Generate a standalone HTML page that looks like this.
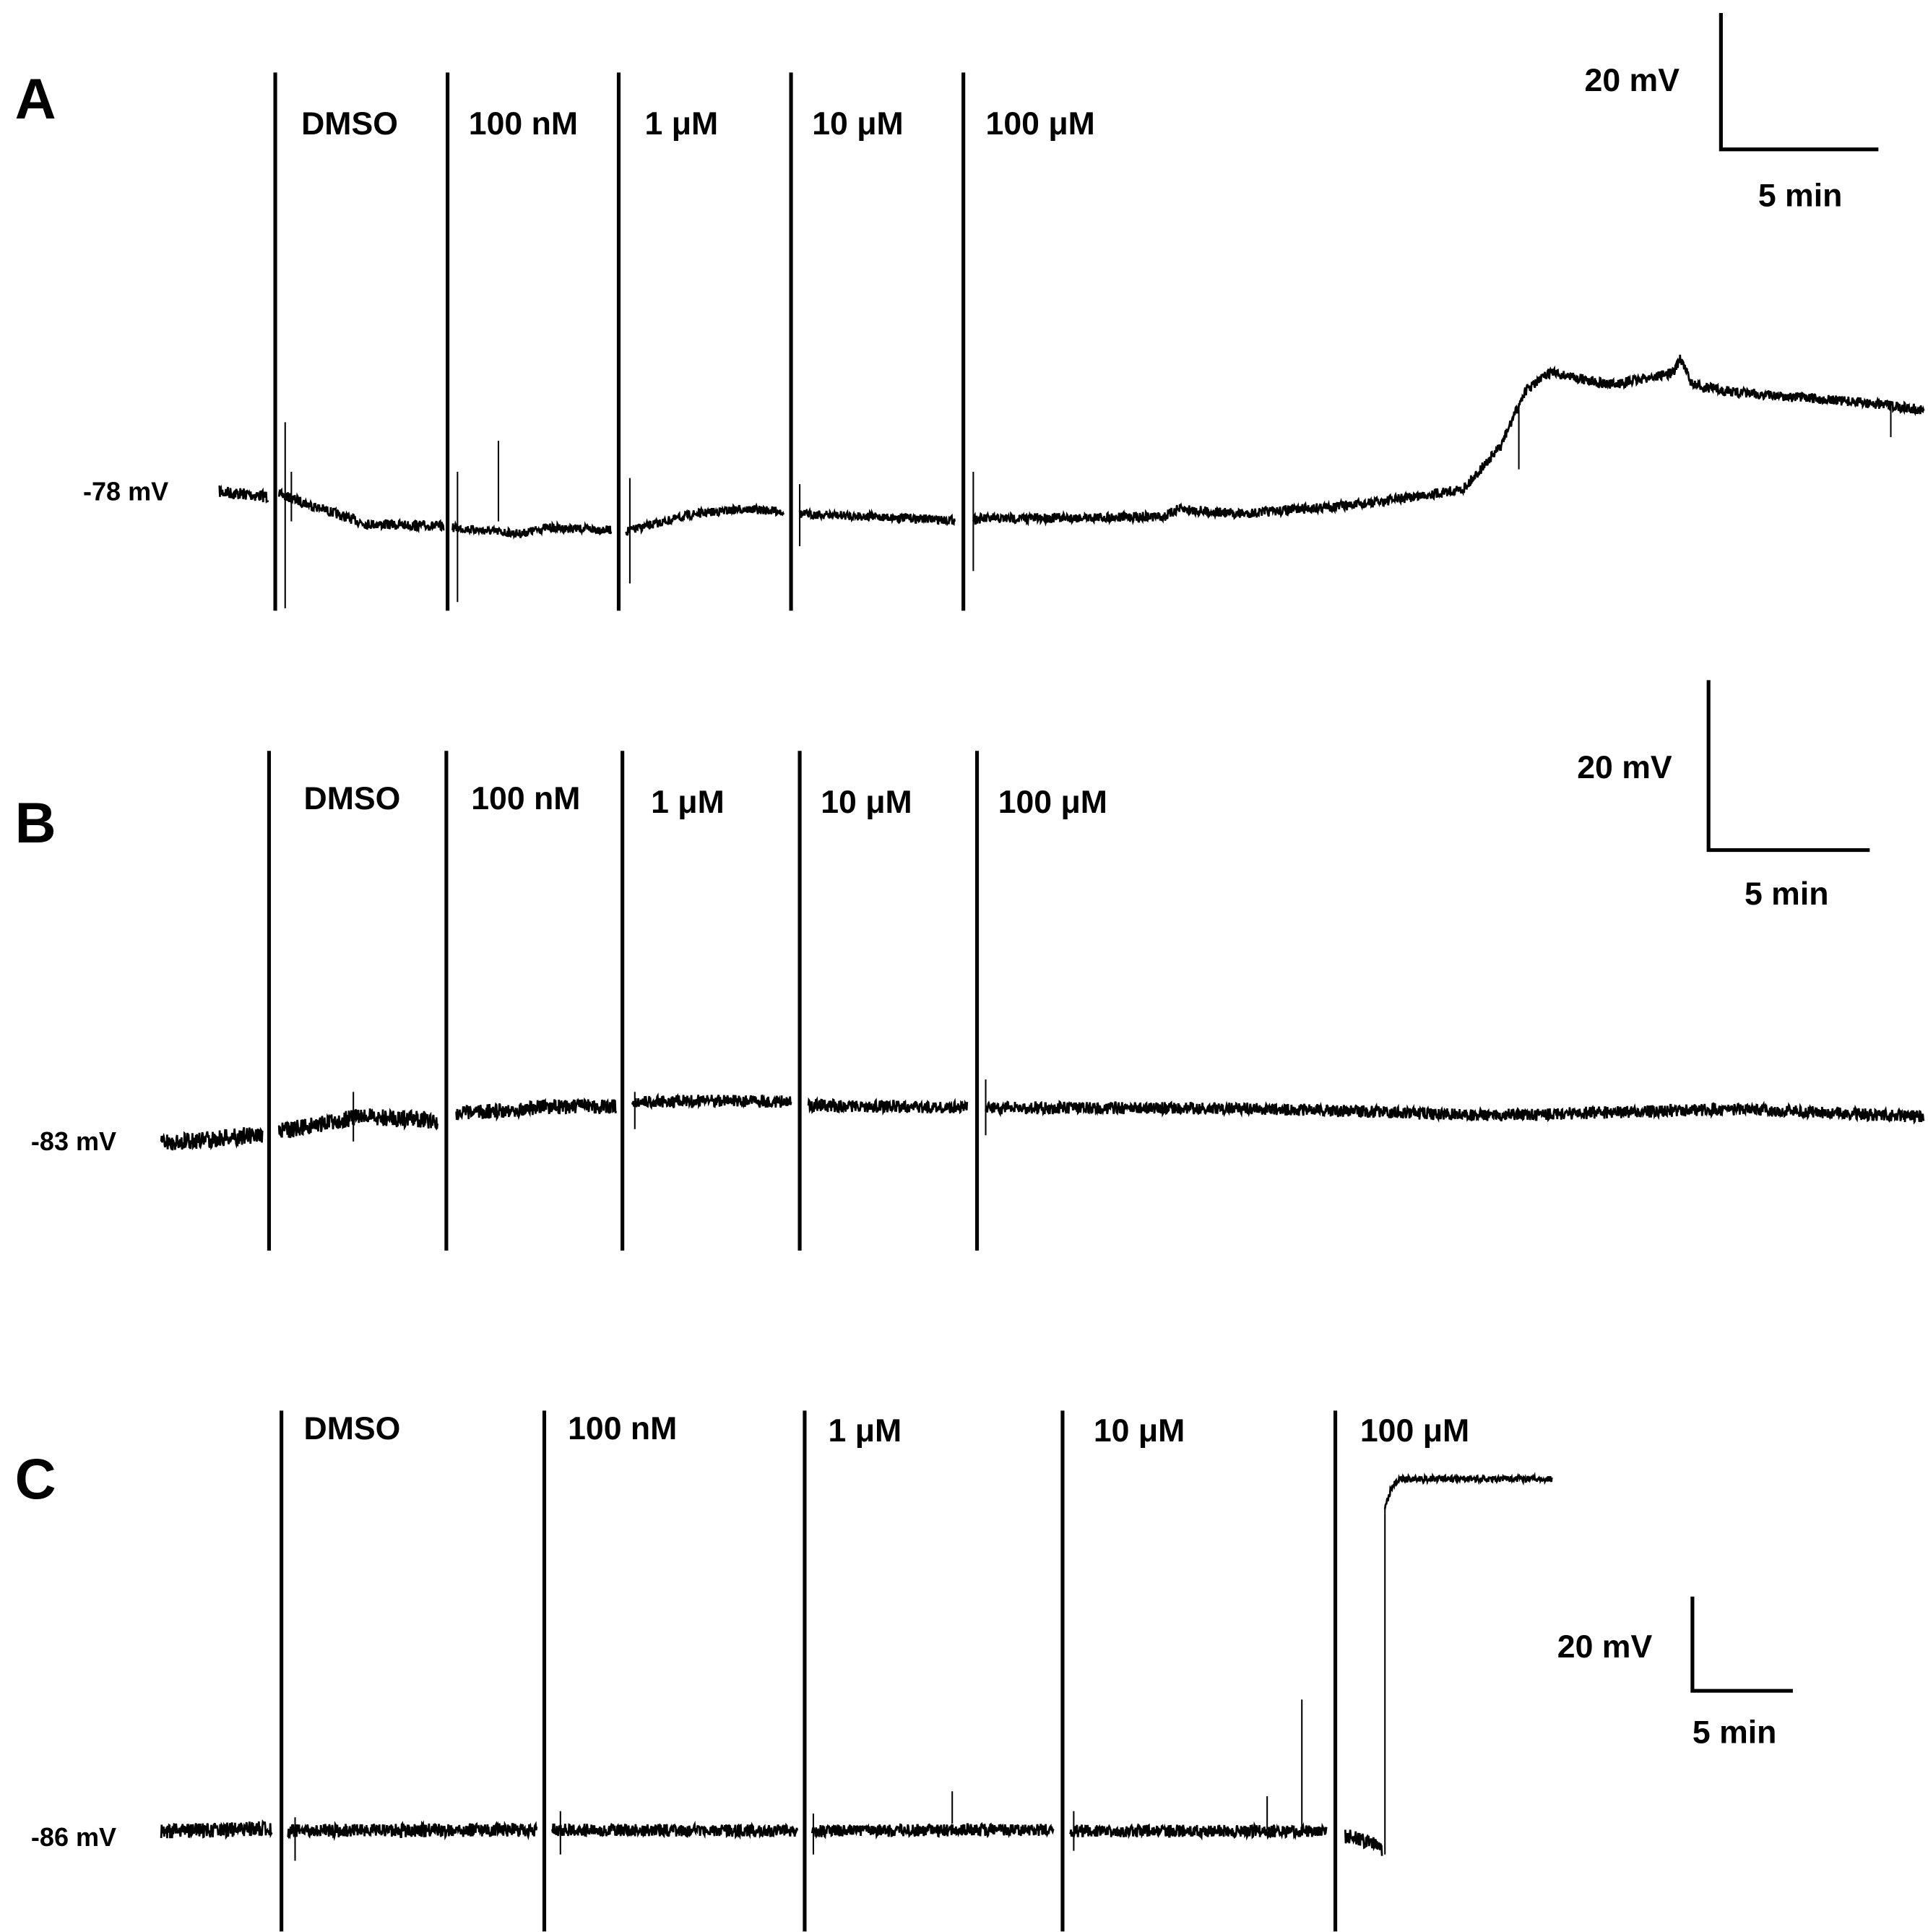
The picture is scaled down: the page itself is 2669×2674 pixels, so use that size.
<!DOCTYPE html>
<html><head><meta charset="utf-8"><style>
html,body{margin:0;padding:0;background:#fff;}
svg{display:block;}
.lab{font-family:"Liberation Sans",Arial,sans-serif;font-weight:bold;font-size:26px;fill:#000;}
.let{font-family:"Liberation Sans",Arial,sans-serif;font-weight:bold;font-size:46px;fill:#000;}
.mv{font-family:"Liberation Sans",sans-serif;font-weight:bold;font-size:21px;fill:#000;}
</style></head><body>
<svg id="s" width="2669" height="2674" viewBox="0 0 1555 1557" xmlns="http://www.w3.org/2000/svg">
<g stroke="#000" stroke-width="3" fill="none">
<path d="M222 58V492M361 58V492M499 58V492M638 58V492M777 58V492"/>
<path d="M1388 10V120H1515"/>
<path d="M217 605V1008M360 605V1008M502 605V1008M645 605V1008M788 605V1008"/>
<path d="M1378 548V685H1508"/>
<path d="M227 1137V1557M439 1137V1557M649 1137V1557M857 1137V1557M1077 1137V1557"/>
<path d="M1365 1287V1363H1446"/>
</g>
<text class="let" x="12" y="95">A</text>
<text class="let" x="12" y="679">B</text>
<text class="let" x="12" y="1208">C</text>
<g class="lab">
<text x="243" y="108">DMSO</text><text x="378" y="108">100 nM</text><text x="520" y="108">1 μM</text><text x="655" y="108">10 μM</text><text x="795" y="108">100 μM</text>
<text x="1278" y="73">20 mV</text><text x="1418" y="166">5 min</text>
<text x="245" y="652">DMSO</text><text x="380" y="652">100 nM</text><text x="525" y="655">1 μM</text><text x="662" y="655">10 μM</text><text x="805" y="655">100 μM</text>
<text x="1272" y="627">20 mV</text><text x="1407" y="729">5 min</text>
<text x="245" y="1160">DMSO</text><text x="458" y="1160">100 nM</text><text x="668" y="1162">1 μM</text><text x="882" y="1162">10 μM</text><text x="1097" y="1162">100 μM</text>
<text x="1256" y="1336">20 mV</text><text x="1365" y="1405">5 min</text>
</g>
<g class="mv">
<text x="67" y="403">-78 mV</text>
<text x="25" y="927">-83 mV</text>
<text x="25" y="1488">-86 mV</text>
</g>
<g id="tr" stroke="#000" stroke-width="1.6" fill="none"></g>
</svg>
<script>
var seed=7;function rnd(){seed=(seed*16807)%2147483647;return seed/2147483647;}
var g=document.getElementById('tr');
function seg(pts,amp){var d='';for(var i=0;i<pts.length-1;i++){var a=pts[i],b=pts[i+1];for(var x=a[0];x<b[0];x+=0.4){var y=a[1]+(b[1]-a[1])*(x-a[0])/(b[0]-a[0])+(rnd()-0.5)*amp;d+=(d?'L':'M')+x.toFixed(1)+' '+y.toFixed(1);}}
var p=document.createElementNS('http://www.w3.org/2000/svg','path');p.setAttribute('d',d);g.appendChild(p);}
function line(d){var p=document.createElementNS('http://www.w3.org/2000/svg','path');p.setAttribute('d',d);p.setAttribute('stroke-width','1.2');g.appendChild(p);}
// A
seg([[177,396],[217,400]],10);
seg([[225,398],[260,410],[295,422],[358,424]],8);
seg([[365,425],[420,430],[440,425],[493,427]],7);
seg([[505,428],[560,414],[600,410],[632,412]],7);
seg([[645,414],[700,416],[770,419]],7);
seg([[785,418],[940,416],[950,410],[1000,414],[1100,406],[1180,394],[1210,360],[1230,315],[1250,300],[1300,310],[1350,300],[1355,288],[1365,310],[1400,316],[1450,320],[1500,324],[1552,330]],8);
line('M230 340V490M235 380V420M369 380V485M402 355V420M508 385V470M645 390V440M785 380V460M1225 330V378M1525 325V352');
// B
seg([[130,922],[212,914]],14);
seg([[225,912],[290,900],[353,903]],14);
seg([[368,898],[440,892],[497,892]],12);
seg([[510,888],[580,887],[638,888]],10);
seg([[652,891],[780,893]],10);
seg([[795,893],[1000,893],[1200,899],[1400,894],[1552,900]],10);
line('M795 870V915M512 880V910M285 880V920');
// C
seg([[130,1476],[220,1474]],12);
seg([[232,1476],[433,1475]],11);
seg([[445,1475],[643,1476]],10);
seg([[655,1476],[850,1475]],10);
seg([[863,1476],[1070,1476]],10);
seg([[1085,1480],[1105,1485],[1115,1492]],12);
line('M1117 1495V1215M768 1444V1470M1050 1370V1475M1022 1448V1475M238 1465V1500M452 1460V1495M656 1462V1495M866 1460V1492');
seg([[1117,1215],[1122,1200],[1128,1192],[1252,1192]],5);
</script>
</body></html>
